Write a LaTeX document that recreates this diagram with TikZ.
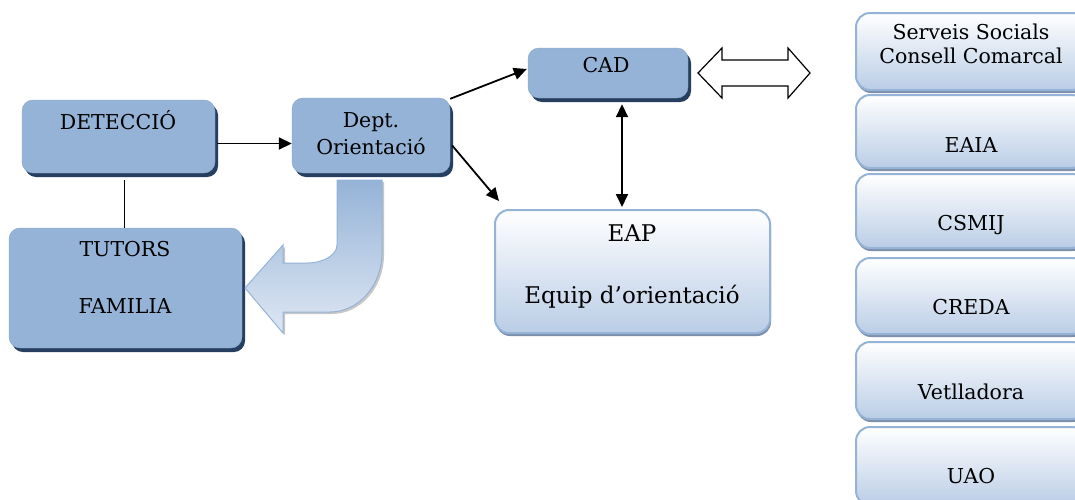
\documentclass[tikz,border=0pt]{standalone}
\usepackage{fontspec}
\setmainfont{DejaVu Serif}
\usetikzlibrary{arrows.meta,shadows,calc}
\definecolor{boxblue}{RGB}{149,179,215}
\definecolor{shadowblue}{RGB}{38,62,96}
\definecolor{lightbot}{RGB}{186,205,230}
\definecolor{lightshadow}{RGB}{125,143,170}
\definecolor{arrowlight}{RGB}{222,231,243}
\begin{document}
\begin{tikzpicture}[x=1pt,y=-1pt,
  darkbox/.style={fill=boxblue, draw=boxblue!92!black, line width=0.4pt, rounded corners=11pt, inner sep=0pt,
    drop shadow={shadow xshift=3pt, shadow yshift=-4pt, fill=shadowblue, opacity=1}},
  lightbox/.style={top color=white, bottom color=lightbot, draw=boxblue, line width=2pt, rounded corners=14pt, inner sep=0pt,
    drop shadow={shadow xshift=1pt, shadow yshift=-3pt, fill=lightshadow, opacity=1}},
  txt/.style={anchor=base, font=\fontsize{20.5}{24}\selectfont, inner sep=0pt},
  bigtxt/.style={anchor=base, font=\fontsize{23}{27}\selectfont, inner sep=0pt},
  conn/.style={line width=1.8pt, -{Triangle[length=13pt,width=12pt]}},
  dconn/.style={line width=1.8pt, {Triangle[length=13pt,width=12pt]}-{Triangle[length=13pt,width=12pt]}},
  plainline/.style={line width=1.4pt},
  hollow/.style={draw=black, line width=1.2pt, fill=white, line join=miter},
  bigarrow/.style={top color=boxblue, bottom color=arrowlight, draw=boxblue, line width=1pt,
    drop shadow={shadow xshift=2pt, shadow yshift=-2pt, fill=gray!55, opacity=0.8}}
]
\clip (0,0) rectangle (1075,499);
\fill[white] (0,0) rectangle (1075,499);

% left dark boxes
\node[darkbox, minimum width=193pt, minimum height=73pt] (det) at (118.5,136.5) {};
\node[darkbox, minimum width=158pt, minimum height=75pt] (dept) at (371,135.5) {};
\node[darkbox, minimum width=233pt, minimum height=120pt] (tut) at (125.5,288) {};
\node[darkbox, minimum width=160pt, minimum height=50pt] (cad) at (608,73) {};

% curved block arrow
\path[bigarrow] (337,180) -- (337,245) .. controls (337,255) and (323.5,263) .. (307,263)
  -- (283,263) -- (283,245) -- (245,288) -- (283,333) -- (283,312) -- (330,312)
  .. controls (358.6,312) and (382,285.5) .. (382,253) -- (382,180) -- cycle;

% EAP box
\node[lightbox, minimum width=275pt, minimum height=123pt] (eap) at (632.5,271.5) {};

% right column
\node[lightbox, minimum width=230pt, minimum height=77pt] (ss) at (971,51.5) {};
\node[lightbox, minimum width=230pt, minimum height=73pt] (eaia) at (971,131.5) {};
\node[lightbox, minimum width=230pt, minimum height=74pt] (csmij) at (971,211) {};
\node[lightbox, minimum width=230pt, minimum height=76pt] (creda) at (971,296) {};
\node[lightbox, minimum width=230pt, minimum height=77pt] (vet) at (971,380.5) {};
\node[lightbox, minimum width=230pt, minimum height=78pt] (uao) at (971,466) {};

% texts
\node[txt] (tdet) at (118,129) {DETECCIÓ};
\node[txt] (tdept1) at (371,127) {Dept.};
\node[txt] (tdept2) at (371,154) {Orientació};
\node[txt] (ttut1) at (125,256) {TUTORS};
\node[txt] (ttut2) at (125,313) {FAMILIA};
\node[txt] (tcad) at (606,72) {CAD};
\node[bigtxt] (teap1) at (632,241) {EAP};
\node[bigtxt] (teap2) at (632,303) {Equip d’orientació};
\node[txt] (tss1) at (971,39) {Serveis Socials};
\node[txt] (tss2) at (971,63) {Consell Comarcal};
\node[txt] (teaia) at (971,152) {EAIA};
\node[txt] (tcsmij) at (971,230) {CSMIJ};
\node[txt] (tcreda) at (971,314) {CREDA};
\node[txt] (tvet) at (971,399) {Vetlladora};
\node[txt] (tuao) at (971,483) {UAO};

% connectors
\coordinate (a1) at ($(det.east)+(2,7)$);
\draw[conn] (a1) -- (a1 -| dept.west);
\coordinate (l1) at ($(det.south)+(6,7)$);
\draw[plainline] (l1) -- (l1 |- tut.north);
\draw[conn] ($(dept.north east)+(0,1)$) -- ($(cad.west)+(-1,-4)$);
\draw[conn] ($(dept.east)+(2,10)$) -- ($(eap.north west)+(5,-8)$);
\coordinate (c1) at ($(cad.south)+(14,6)$);
\coordinate (c2) at ($(c1 |- eap.north)+(0,-2)$);
\draw[dconn] (c1) -- (c2);

% hollow double arrow
\draw[hollow] (698,73) -- (722,48) -- (722,60) -- (788,60) -- (788,48) -- (810,73)
  -- (788,98) -- (788,86) -- (722,86) -- (722,98) -- cycle;
\end{tikzpicture}
\end{document}
